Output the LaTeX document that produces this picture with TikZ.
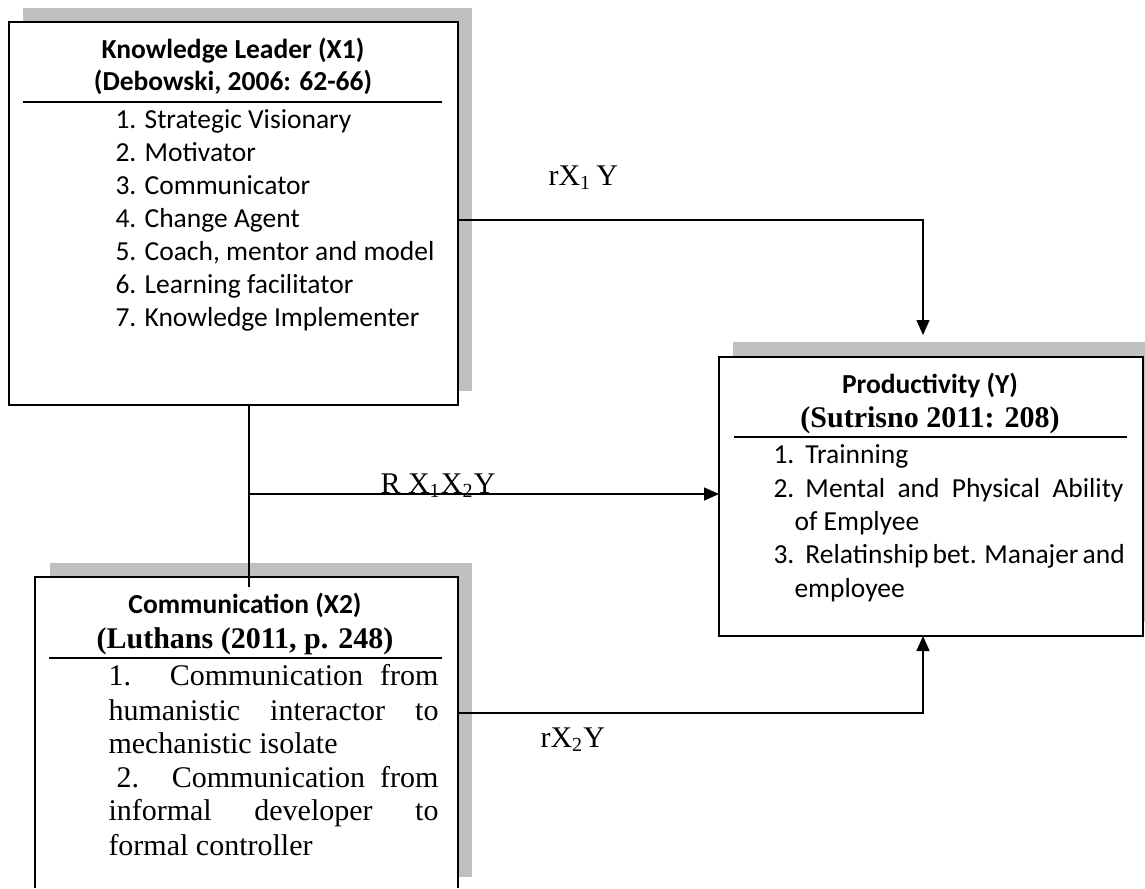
\documentclass[tikz,border=0pt]{standalone}
\usepackage{fontspec}
\setmainfont{Liberation Serif}
\newfontfamily\calfont{Carlito}
\usetikzlibrary{arrows.meta}
\definecolor{shadowgray}{RGB}{192,192,192}
\begin{document}
\begin{tikzpicture}[x=0.4pt,y=-0.4pt,
  box/.style={draw, line width=0.8pt, fill=white, inner sep=0pt, outer sep=0pt},
  conn/.style={line width=0.55pt},
  tip/.style={-{Triangle[length=6pt,width=5.2pt]}},
  rulel/.style={line width=0.6pt},
  ctitle/.style={inner sep=0pt, anchor=base, font=\calfont\bfseries\fontsize{11}{13}\selectfont},
  ttitle/.style={inner sep=0pt, anchor=base, font=\bfseries\fontsize{12}{14}\selectfont},
  citem/.style={inner sep=0pt, anchor=base west, font=\calfont\fontsize{11}{13}\selectfont},
  titem/.style={inner sep=0pt, anchor=base west, font=\fontsize{12}{14}\selectfont},
  lbl/.style={inner sep=0pt, anchor=base west, font=\fontsize{12}{14}\selectfont}]
\useasboundingbox (0,0) rectangle (1145,888);
% shadows
\fill[shadowgray] (23,8) rectangle (472,391);
\fill[shadowgray] (733,342) rectangle (1145,622);
\fill[shadowgray] (50,563) rectangle (472,877);
% boxes
\node[box, minimum width=179.6pt, minimum height=153.2pt] (b1) at (233.5,213.5) {};
\node[box, minimum width=169.6pt, minimum height=111.6pt] (by) at (931,496.5) {};
\node[fill=white, inner sep=0pt, outer sep=0pt, minimum width=169.2pt, minimum height=124.4pt] (b2) at (246.5,732.5) {};
\draw[line width=0.8pt] (b2.south west) -- (b2.north west) -- (b2.north east) -- (b2.south east);
% Knowledge Leader
\node[ctitle] (t1a) at (233,58) {Knowledge Leader (X1)};
\node[ctitle] (t1b) at (233,90) {(Debowski, 2006: 62-66)};
\draw[rulel] (23,102) -- (442,102);
\foreach \t [count=\i] in {1. Strategic Visionary, 2. Motivator, 3. Communicator, 4. Change Agent, {5. Coach, mentor and model}, 6. Learning facilitator, 7. Knowledge Implementer}
  \node[citem] (k\i) at (115,{95+33*\i}) {\t};
% Productivity
\node[ctitle] (tya) at (930,393) {Productivity (Y)};
\node[ttitle] (tyb) at (930,427) {(Sutrisno 2011: 208)};
\draw[rulel] (734,437) -- (1127,437);
\node[citem] (y1) at (773,463) {\makebox[12.8pt][l]{1.}Trainning};
\node[citem] (y2) at (773,497) {\makebox[12.8pt][l]{2.}\makebox[127.2pt][s]{Mental and Physical Ability}};
\node[citem] (y3) at (794,530) {of Emplyee};
\node[citem] (y4) at (773,563) {\makebox[12.8pt][l]{3.}\makebox[127.2pt][s]{Relatinship bet. Manajer and}};
\node[citem] (y5) at (794,597) {employee};
% Communication
\node[ctitle] (t2a) at (245,613) {Communication (X2)};
\node[ttitle] (t2b) at (245,648) {(Luthans (2011, p. 248)};
\draw[rulel] (49,658) -- (442,658);
\node[titem] (c1) at (108,685) {\makebox[132pt][s]{1. Communication from}};
\node[titem] (c2) at (108,720) {\makebox[132pt][s]{humanistic interactor to}};
\node[titem] (c3) at (108,753) {mechanistic isolate};
\node[titem] (c4) at (116,787) {\makebox[128.8pt][s]{2. Communication from}};
\node[titem] (c5) at (108,820) {\makebox[132pt][s]{informal developer to}};
\node[titem] (c6) at (108,855) {formal controller};
% connectors
\coordinate (j) at (249,494);
\coordinate (yin) at (923,335);
\draw[conn] (j |- b1.south) -- ([yshift=-4pt]j |- b2.north);
\draw[conn,tip] (j) -- (j -| by.west);
\draw[conn,tip] ([yshift=-2.6pt]b1.east) -| (yin);
\draw[conn,tip] ([yshift=7.8pt]b2.east) -| ([xshift=-3.2pt]by.south);
% labels
\node[lbl] (r1) at (548,185) {rX\textsubscript{1}\,Y};
\node[lbl] (r12) at (380,493) {R X\textsubscript{1}X\textsubscript{2}Y};
\node[lbl] (r2) at (540,747) {rX\textsubscript{2}Y};
\end{tikzpicture}
\end{document}
